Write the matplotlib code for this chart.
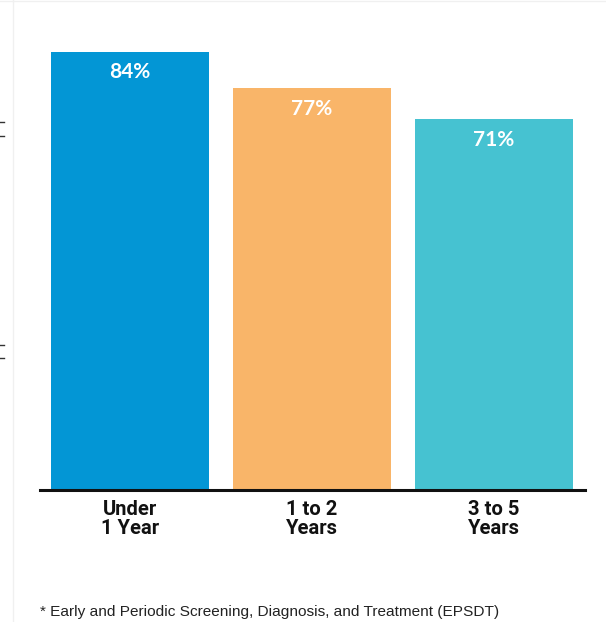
import matplotlib
matplotlib.use("Agg")
import matplotlib.pyplot as plt
from matplotlib.lines import Line2D

categories = ["Under\n1 Year", "1 to 2\nYears", "3 to 5\nYears"]
values = [84, 77, 71]
labels = ["84%", "77%", "71%"]
colors = ["#0396D5", "#F9B569", "#46C2D1"]
footnote = "* Early and Periodic Screening, Diagnosis, and Treatment (EPSDT)"

W, H = 606, 622
fig = plt.figure(figsize=(W / 100, H / 100), dpi=100)
ax = fig.add_axes([40 / W, 1 - 490 / H, 545 / W, 490 / H])

x = range(len(values))
ax.bar(x, values, width=0.868, color=colors)
ax.set_xlim(-0.495, 2.5)
ax.set_ylim(0, 93.9)

for xi, v, lab in zip(x, values, labels):
    ax.text(xi, v - 3.9, lab, ha="center", va="center", color="white",
            fontsize=15, fontweight="bold", family=["Lato", "DejaVu Sans"])

for s in ["top", "right", "left"]:
    ax.spines[s].set_visible(False)
ax.spines["bottom"].set_linewidth(2.2)
ax.spines["bottom"].set_color("#111111")
ax.set_yticks([])
ax.set_xticks(list(x))
ax.set_xticklabels(categories, fontsize=14.5, fontweight="bold", linespacing=1.02,
                   family=["Roboto", "DejaVu Sans"], color="#111111")
ax.tick_params(axis="x", length=0, pad=7)

fig.text(40 / W, 1 - 616 / H, footnote, fontsize=11.1, va="baseline", ha="left",
         color="#222222", family=["Liberation Sans", "DejaVu Sans"])

# faint page borders and clipped marks at the left edge
fig.add_artist(Line2D([13 / W, 13 / W], [0, 1], color="#f0f0f0", lw=1))
fig.add_artist(Line2D([0, 1], [1 - 0.5 / H, 1 - 0.5 / H], color="#f0f0f0", lw=1))
for yy in [122, 136, 345, 358]:
    fig.add_artist(Line2D([0, 4 / W], [1 - yy / H, 1 - yy / H], color="#333333", lw=1))

fig.savefig("out.png", dpi=100)
